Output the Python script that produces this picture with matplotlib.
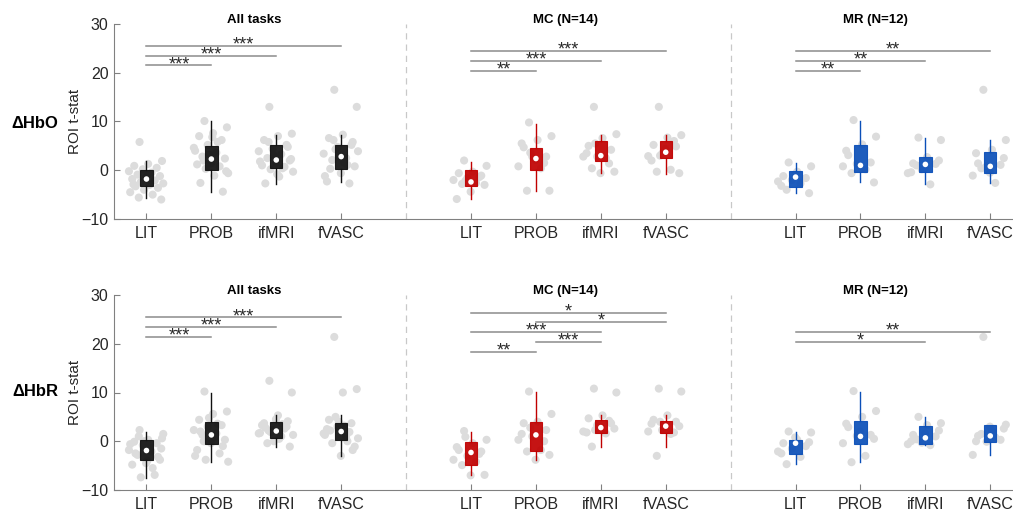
import numpy as np
import matplotlib
matplotlib.use('Agg')
import matplotlib.pyplot as plt

plt.rcParams['font.family'] = ['Liberation Sans', 'DejaVu Sans']

# Conditions and task groups
conditions = ['LIT', 'PROB', 'ifMRI', 'fVASC']
panels = ['All tasks', 'MC (N=14)', 'MR (N=12)']
panel_colors = ['#111111', '#c00000', '#0b4fb8']

# ---- dHbO box statistics: one row per panel, one column per condition
hbo_q1 = [[-3.2, 0.0, 0.5, 0.2], [-3.2, 0.1, 1.8, 2.5], [-3.4, -0.4, -0.4, -0.5]]
hbo_med = [[-1.8, 2.3, 2.1, 2.8], [-2.4, 2.4, 3.0, 3.7], [-1.4, 1.0, 1.2, 0.8]]
hbo_q3 = [[0.0, 4.9, 5.2, 5.1], [0.1, 4.6, 5.9, 5.9], [-0.1, 5.1, 2.7, 3.8]]
hbo_wlo = [[-5.7, -4.4, -2.9, -2.5], [-5.9, -4.2, -0.6, -0.7], [-4.7, -2.5, -2.9, -2.6]]
hbo_whi = [[1.8, 10.1, 7.2, 7.2], [1.6, 9.4, 7.2, 7.2], [1.4, 10.1, 6.7, 6.2]]

# dHbO individual subject t-stats
hbo_all_pts = [
    [5.8, 1.9, 1.3, 0.9, 0.5, 0.2, -0.2, -0.5, -0.9, -1.2, -1.5, -1.8, -2.1,
     -2.4, -2.7, -3.0, -3.3, -3.6, -4.0, -4.5, -5.0, -5.6, -6.0, -1.0, -2.9],
    [10.1, 8.8, 7.6, 7.0, 6.2, 5.2, 4.6, 3.6, 2.8, 2.4, 1.4, 1.2, 0.8, 0.3,
     -0.6, -1.1, -2.6, -4.4, 3.2, 4.0, 5.8, 2.0, -0.2, 6.8],
    [13.0, 7.5, 7.0, 6.2, 5.2, 4.4, 3.9, 3.3, 2.5, 2.0, 1.5, 1.0, 0.7, 0.2,
     -0.3, -1.3, -2.7, 4.8, 3.0, 1.8, 0.4, 5.8, 2.3, -0.8],
    [16.5, 13.0, 7.3, 6.6, 5.2, 4.8, 3.4, 2.5, 2.1, 0.8, -0.6, -2.3, -2.7,
     4.3, 3.9, 1.6, 0.3, 5.8, 2.9, -1.2, 1.1, 6.2],
]
hbo_mc_pts = [
    [2.0, 0.9, -0.3, -0.6, -1.1, -1.6, -2.0, -2.6, -2.8, -3.0, -4.4, -5.9, -1.4, -2.2],
    [9.8, 7.0, 6.2, 4.7, 2.8, 2.8, 0.8, 0.4, -4.2, -4.2, 2.1, 5.5, 1.5, 3.6],
    [13.0, 7.4, 6.6, 5.0, 4.2, 2.8, 2.8, 2.5, 0.4, -0.3, -0.6, 3.5, 1.4, 5.5],
    [13.0, 7.2, 6.7, 5.2, 4.9, 3.4, 2.9, 0.1, -0.3, -0.6, 4.4, 2.0, 6.0, 3.0],
]
hbo_mr_pts = [
    [1.6, 0.8, -0.3, -1.2, -1.6, -2.0, -2.3, -2.7, -4.0, -4.7, -0.8, -3.2],
    [10.3, 6.9, 5.3, 3.1, 1.6, 1.3, 0.8, 0.2, -0.6, -2.5, 0.9, 4.0],
    [6.7, 6.2, 2.7, 1.4, 1.3, 0.2, -0.6, -2.9, 1.0, 2.0, 0.5, -0.4],
    [16.5, 6.2, 4.2, 1.4, 1.1, 0.8, -1.1, -2.6, 0.4, 2.5, -0.5, 3.5],
]

# ---- dHbR box statistics
hbr_q1 = [[-3.8, -0.5, 0.7, 0.3], [-4.9, -2.0, 1.6, 1.6], [-2.6, -0.5, -0.5, -0.1]]
hbr_med = [[-1.9, 1.3, 2.1, 2.0], [-2.3, 1.3, 2.8, 3.1], [-0.4, 1.0, 0.7, 1.1]]
hbr_q3 = [[0.2, 3.9, 4.0, 3.7], [-0.1, 3.9, 4.4, 4.2], [0.3, 4.1, 3.1, 3.3]]
hbr_wlo = [[-7.6, -4.2, -1.1, -3.0], [-7.0, -3.8, -1.1, -1.1], [-4.6, -4.3, -0.8, -2.8]]
hbr_whi = [[2.0, 10.0, 5.3, 5.3], [1.8, 10.2, 5.3, 5.3], [2.0, 10.1, 4.9, 3.4]]

hbr_all_pts = [
    [2.3, 0.6, 0.3, -0.1, -0.4, -0.8, -1.8, -2.1, -2.8, -3.8, -4.5, -4.8, -6.9,
     -7.4, 1.5, -1.2, -2.5, -3.2, 0.0, -0.6, -5.5, 1.0, -1.5, -4.0],
    [10.2, 6.1, 5.6, 4.4, 3.3, 3.0, 2.3, 1.6, 1.3, 0.3, -0.4, -1.8, -2.5, -3.8,
     -4.2, 0.8, 2.0, -1.0, 4.8, -3.0, 3.6, 0.0],
    [12.4, 10.0, 5.3, 3.7, 3.0, 2.3, 1.6, 1.0, -0.4, -1.1, 4.5, 3.3, 2.6, 1.9,
     1.3, 0.5, 2.8, 4.1, 0.0, 1.7, 3.5, 2.2],
    [21.4, 10.7, 10.0, 4.4, 3.7, 3.0, 1.6, 1.0, -0.4, -1.1, -3.0, 2.5, 1.9, 5.0,
     0.6, 3.2, 2.2, -1.8, 4.0, 1.3, 0.0],
]
hbr_mc_pts = [
    [2.1, 0.3, -0.4, -1.8, -2.1, -3.0, -3.8, -4.2, -4.9, -6.9, -7.0, -1.2, -2.6, 0.9],
    [10.2, 5.6, 4.0, 3.7, 2.3, 1.0, 0.3, -1.8, -2.1, -2.8, -3.8, 1.5, 0.0, 2.8],
    [10.8, 10.0, 5.3, 4.7, 3.7, 3.3, 2.0, 1.6, -1.1, 2.6, 3.0, 1.8, 4.2, 2.3],
    [10.8, 10.2, 5.3, 4.4, 4.0, 2.3, 2.0, 1.5, -3.0, 3.1, 2.8, 3.6, 1.8, 4.0],
]
hbr_mr_pts = [
    [2.0, 1.8, 0.3, -0.4, -1.0, -1.5, -2.1, -3.2, -4.7, -0.2, 0.8, -2.5],
    [10.3, 6.2, 5.0, 2.9, 1.3, 1.1, -0.4, -3.0, -4.3, 0.5, 2.0, 3.6],
    [5.0, 3.7, 3.3, 1.3, 1.0, -0.3, -0.6, -0.8, 0.4, 2.2, 1.6, 0.0],
    [21.4, 3.4, 2.0, 1.1, 0.3, -0.1, -2.8, 0.8, 1.5, 2.6, 3.0, 0.0],
]

# Pairwise comparisons per panel: (condition a, condition b, bar height, stars)
hbo_sig = [
    [('LIT', 'PROB', 21.5, '***'), ('LIT', 'ifMRI', 23.5, '***'), ('LIT', 'fVASC', 25.5, '***')],
    [('LIT', 'PROB', 20.4, '**'), ('LIT', 'ifMRI', 22.4, '***'), ('LIT', 'fVASC', 24.5, '***')],
    [('LIT', 'PROB', 20.4, '**'), ('LIT', 'ifMRI', 22.4, '**'), ('LIT', 'fVASC', 24.5, '**')],
]
hbr_sig = [
    [('LIT', 'PROB', 21.4, '***'), ('LIT', 'ifMRI', 23.4, '***'), ('LIT', 'fVASC', 25.4, '***')],
    [('LIT', 'PROB', 18.4, '**'), ('PROB', 'ifMRI', 20.4, '***'), ('LIT', 'ifMRI', 22.4, '***'),
     ('PROB', 'fVASC', 24.4, '*'), ('LIT', 'fVASC', 26.4, '*')],
    [('LIT', 'ifMRI', 20.4, '*'), ('LIT', 'fVASC', 22.4, '**')],
]

# x layout: four slots per panel with an empty slot between panels
group_pos = [[1, 2, 3, 4], [6, 7, 8, 9], [11, 12, 13, 14]]
separators = [5, 10]
title_x = [2.66, 7.45, 12.23]

axis_grey = '#808080'
text_col = '#262626'


def draw_row(ax, q1, med, q3, wlo, whi, pts_list, sig):
    for p in range(3):
        pos = group_pos[p]
        col = panel_colors[p]
        stats = []
        for c in range(4):
            stats.append({'q1': q1[p][c], 'med': med[p][c], 'q3': q3[p][c],
                          'whislo': wlo[p][c], 'whishi': whi[p][c], 'fliers': []})
        # subject points behind the boxes
        for c in range(4):
            vals = np.array(pts_list[p][c])
            n = len(vals)
            offs = ((np.arange(n) * 0.618034 + 0.31) % 1 - 0.5) * 0.56
            ax.scatter(pos[c] + offs, vals, s=34, color='#dcdcdc',
                       edgecolors='none', zorder=1)
        ax.bxp(stats, positions=pos, widths=0.19, patch_artist=True,
               showcaps=False, showfliers=False, manage_ticks=False,
               boxprops=dict(facecolor=col, edgecolor=col, linewidth=0.8, alpha=0.92),
               whiskerprops=dict(color=col, linewidth=1.0),
               medianprops=dict(linewidth=0), zorder=3)
        ax.scatter(pos, med[p], s=16, color='white', edgecolors='none', zorder=5)

        # significance bars
        for a, b, h, stars in sig[p]:
            xa = pos[conditions.index(a)]
            xb = pos[conditions.index(b)]
            ax.plot([xa, xb], [h, h], color='#8c8c8c', lw=1.1, zorder=2)
            ax.text((xa + xb) / 2, h - 0.75, stars, ha='center', va='baseline',
                    fontsize=13, color='#2a2a2a', zorder=4)

        ax.text(title_x[p], 30.15, panels[p], ha='center', va='baseline',
                fontsize=9.5, fontweight='bold', color='#000000')

    for s in separators:
        ax.axvline(s, color='#c8c8c8', lw=0.9, ls=(0, (5, 4)), zorder=0)

    ax.set_xlim(0.5, 14.35)
    ax.set_ylim(-10, 30)
    ax.set_yticks([-10, 0, 10, 20, 30])
    ax.set_xticks([x for g in group_pos for x in g])
    ax.set_xticklabels(conditions * 3)
    ax.tick_params(direction='in', length=4, width=0.8, color=axis_grey,
                   labelsize=11.5, labelcolor=text_col)
    ax.tick_params(axis='x', pad=5)
    ax.tick_params(axis='y', pad=4)
    for side in ['top', 'right']:
        ax.spines[side].set_visible(False)
    for side in ['left', 'bottom']:
        ax.spines[side].set_color(axis_grey)
        ax.spines[side].set_linewidth(0.8)
    ax.set_ylabel('ROI t-stat', fontsize=11, color=text_col)
    ax.yaxis.set_label_coords(-0.036, 0.5)


fig = plt.figure(figsize=(10.13, 5.18), dpi=100)
ax_top = fig.add_axes([114 / 1013, 1 - 219 / 518, 899 / 1013, 195 / 518])
ax_bot = fig.add_axes([114 / 1013, 1 - 490 / 518, 899 / 1013, 195 / 518])

draw_row(ax_top, hbo_q1, hbo_med, hbo_q3, hbo_wlo, hbo_whi,
         [hbo_all_pts, hbo_mc_pts, hbo_mr_pts], hbo_sig)
draw_row(ax_bot, hbr_q1, hbr_med, hbr_q3, hbr_wlo, hbr_whi,
         [hbr_all_pts, hbr_mc_pts, hbr_mr_pts], hbr_sig)

fig.text(35 / 1013, 1 - 124 / 518, 'ΔHbO', fontsize=12, fontweight='bold',
         ha='center', va='center')
fig.text(35 / 1013, 1 - 391 / 518, 'ΔHbR', fontsize=12, fontweight='bold',
         ha='center', va='center')

fig.savefig('out.png', dpi=100)
